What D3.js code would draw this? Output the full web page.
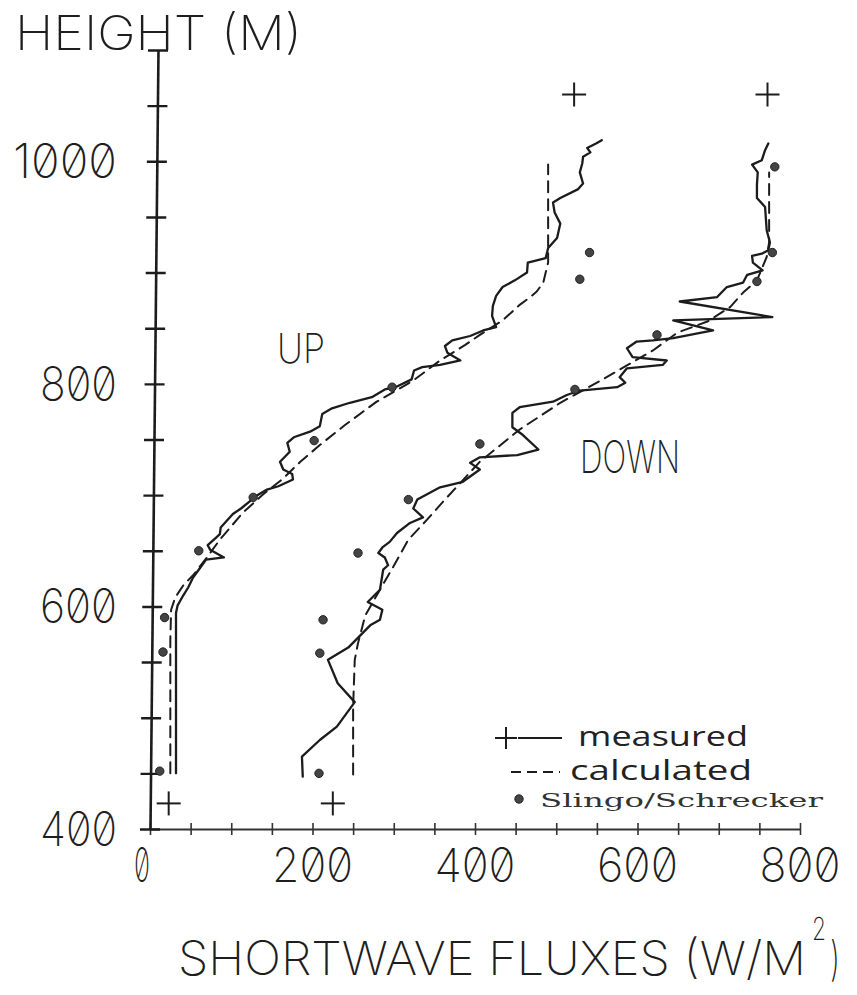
<!DOCTYPE html>
<html>
<head>
<meta charset="utf-8">
<script src="https://cdn.jsdelivr.net/npm/d3@7"></script>
<style>
  body { margin: 0; background: #fff; }
  svg { display: block; }
  .plotter { font-family: Inter, "DejaVu Sans", sans-serif; font-weight: 200; font-variant-numeric: slashed-zero; font-feature-settings: "zero" 1; fill: #1e1e1e; }
  .legend-sans { font-family: "Open Sans", "DejaVu Sans", sans-serif; fill: #222; }
  .legend-serif { font-family: "DejaVu Serif", "Liberation Serif", serif; fill: #333; }
</style>
</head>
<body>
<svg id="chart" width="857" height="995"></svg>
<script>
// Shortwave flux profiles: [flux (W/m²), height (m)]
const upMeasured = [
  [32,450],[32,516],[32,570],[32,594],[34,601],[41,610],[47,617],[53,626],[62,635],[69,642],
  [91,644],[74,651],[71,655],[80,661],[86,665],[87,671],[102,683],[112,688],[122,694],[130,699],
  [144,705],[158,708],[176,714],[175,719],[164,723],[160,730],[172,739],[169,747],[177,752],[197,757],
  [209,762],[212,773],[224,778],[246,783],[273,788],[289,795],[302,797],[322,804],[325,812],[335,815],
  [357,817],[382,821],[366,828],[363,834],[372,839],[394,843],[410,848],[426,851],[421,861],[422,870],
  [426,879],[434,887],[449,893],[464,900],[465,909],[487,913],[490,922],[501,931],[505,944],[498,954],
  [496,963],[505,967],[527,975],[533,980],[529,990],[532,998],[533,1004],[542,1008],[538,1012],[549,1016],
  [556,1019]
];
const upCalculated = [
  [25,450],[25,516],[25,570],[26,597],[31,608],[41,619],[53,628],[68,642],[86,660],[114,684],
  [138,700],[164,715],[185,730],[209,745],[240,763],[279,784],[324,803],[357,821],[388,835],[406,844],
  [434,857],[455,871],[468,878],[476,883],[484,891],[487,900],[490,909],[490,938],[490,997]
];
const downMeasured = [
  [188,447],[187,465],[209,480],[230,492],[252,514],[231,531],[219,552],[244,563],[271,583],[283,588],
  [286,597],[268,604],[283,615],[287,633],[293,637],[289,644],[281,648],[286,653],[295,658],[304,666],
  [320,675],[336,680],[324,688],[329,696],[357,707],[385,712],[406,723],[394,729],[406,734],[452,736],
  [478,741],[459,754],[446,761],[446,774],[455,779],[496,784],[513,790],[529,794],[575,797],[585,801],
  [578,806],[587,814],[631,817],[636,821],[594,824],[587,832],[599,838],[619,839],[644,841],[693,848],
  [644,857],[766,860],[652,874],[698,878],[710,887],[730,891],[735,898],[754,902],[742,909],[741,915],
  [753,917],[761,920],[763,927],[759,938],[757,959],[747,967],[747,979],[748,990],[741,997],[753,1001],
  [757,1010],[761,1016]
];
const downCalculated = [
  [250,449],[250,510],[252,552],[256,567],[265,592],[283,615],[302,639],[318,660],[341,678],[363,696],
  [382,711],[406,730],[455,759],[505,783],[562,806],[619,830],[649,846],[686,856],[714,869],[730,882],
  [747,893],[759,914],[762,927],[762,965],[762,990]
];
const slingoUp = [
  [12,452],[16,559],[18,590],[60,650],[127,698],[202,749],[298,797],[529,894],[541,918]
];
const slingoDown = [
  [208,450],[209,558],[213,588],[256,648],[318,696],[406,746],[523,795],[624,844],[747,892],[766,918],[769,995]
];
// Measured values at the surface and at the top of the profile
const endpointMeasured = [[23,423],[225,423],[522,1060],[760,1060]];

const xTickLabels = [0, 200, 400, 600, 800];
const yTickLabels = [400, 600, 800, 1000];

const svg = d3.select("#chart");
const ink = "#1c1c1c";

const x = d3.scaleLinear().domain([0, 800]).range([150, 800]);
const y = d3.scaleLinear().domain([400, 1100]).range([829, 50]);

// x axis: ticks every 50 W/m², crossing the line
const xAxis = svg.append("g")
  .attr("transform", `translate(0,${y(400)})`)
  .call(d3.axisBottom(x).tickValues(d3.range(0, 801, 50)).tickSize(6).tickSizeOuter(0).tickFormat(""));
xAxis.select(".domain").attr("stroke", "#333").attr("stroke-width", 2);
xAxis.selectAll(".tick line").attr("y1", -6).attr("y2", 6).attr("stroke", "#333").attr("stroke-width", 1.6);

// y axis: ticks every 50 m, crossing the line; the pen drifts slightly to the right going up
const lean = -8 / (y(400) - y(1100));
const yAxis = svg.append("g")
  .attr("transform", `translate(${x(0) - lean * y(400)},0) skewX(${Math.atan(lean) * 180 / Math.PI})`)
  .call(d3.axisLeft(y).tickValues(d3.range(400, 1101, 50)).tickSize(10).tickSizeOuter(0).tickFormat(""));
yAxis.select(".domain").attr("stroke", ink).attr("stroke-width", 2.6);
yAxis.selectAll(".tick line").attr("x1", -10).attr("x2", 10).attr("stroke", ink).attr("stroke-width", 2.4);

// Plotter-style labels
function plotterText(str, px, py, size, len, anchor) {
  return svg.append("text").attr("class", "plotter")
    .attr("x", px).attr("y", py)
    .attr("font-size", size)
    .attr("text-anchor", anchor || "start")
    .attr("textLength", len).attr("lengthAdjust", "spacingAndGlyphs")
    .text(str);
}

plotterText("HEIGHT (M)", 15, 50, 48, 287);

yTickLabels.forEach(v => {
  const s = String(v);
  plotterText(s, 117, y(v) + 17, 48, s.length * 27 - 4, "end");
});

xTickLabels.forEach(v => {
  const s = String(v);
  plotterText(s, x(v) + (v === 0 ? -8 : 0), 882, 47, s.length === 1 ? 16 : s.length * 28 - 3, "middle")
    .attr("fill", "#2a2a2a");
});

plotterText("SHORTWAVE FLUXES (W/M", 178, 975, 47, 628).attr("fill", "#2a2a2a");
plotterText("2", 812, 940, 32, 14).attr("fill", "#2a2a2a");
plotterText(")", 830, 975, 47, 10).attr("fill", "#2a2a2a");

plotterText("UP", 277, 363, 41, 48);
plotterText("DOWN", 580, 473, 45, 100);

// Profiles
const line = d3.line().x(d => x(d[0])).y(d => y(d[1]));

function drawProfile(data, dashed) {
  svg.append("path")
    .datum(data)
    .attr("d", line)
    .attr("fill", "none")
    .attr("stroke", ink)
    .attr("stroke-width", dashed ? 2 : 2.3)
    .attr("stroke-linejoin", "round")
    .attr("stroke-linecap", "round")
    .attr("stroke-dasharray", dashed ? "11,7" : null);
}
drawProfile(upCalculated, true);
drawProfile(downCalculated, true);
drawProfile(upMeasured, false);
drawProfile(downMeasured, false);

// Slingo/Schrecker model points
svg.append("g").selectAll("circle")
  .data(slingoUp.concat(slingoDown))
  .join("circle")
  .attr("cx", d => x(d[0])).attr("cy", d => y(d[1]))
  .attr("r", 4.2)
  .attr("fill", "#444").attr("stroke", "#222").attr("stroke-width", 1);

// Measured end points as crosses
function cross(g, cx, cy, arm) {
  g.append("line").attr("x1", cx - arm).attr("x2", cx + arm).attr("y1", cy).attr("y2", cy);
  g.append("line").attr("x1", cx).attr("x2", cx).attr("y1", cy - arm).attr("y2", cy + arm);
}
const crosses = svg.append("g").attr("stroke", ink).attr("stroke-width", 2);
endpointMeasured.forEach(d => cross(crosses, x(d[0]), y(d[1]), 12));

// Legend
const legend = svg.append("g");
const lg = legend.append("g").attr("stroke", ink).attr("stroke-width", 2);
cross(lg, 506, 738, 11);
lg.append("line").attr("x1", 518).attr("x2", 562).attr("y1", 738).attr("y2", 738);
lg.append("line").attr("x1", 511).attr("x2", 560).attr("y1", 772).attr("y2", 772)
  .attr("stroke-dasharray", "10,6");
legend.append("circle").attr("cx", 519).attr("cy", 799).attr("r", 4.2)
  .attr("fill", "#444").attr("stroke", "#222").attr("stroke-width", 1);

legend.append("text").attr("class", "legend-sans")
  .attr("x", 578).attr("y", 746).attr("font-size", 27)
  .attr("textLength", 170).attr("lengthAdjust", "spacingAndGlyphs").text("measured");
legend.append("text").attr("class", "legend-sans")
  .attr("x", 570).attr("y", 780).attr("font-size", 27)
  .attr("textLength", 182).attr("lengthAdjust", "spacingAndGlyphs").text("calculated");
legend.append("text").attr("class", "legend-serif")
  .attr("x", 540).attr("y", 807).attr("font-size", 19)
  .attr("textLength", 283).attr("lengthAdjust", "spacingAndGlyphs").text("Slingo/Schrecker");
</script>
</body>
</html>
